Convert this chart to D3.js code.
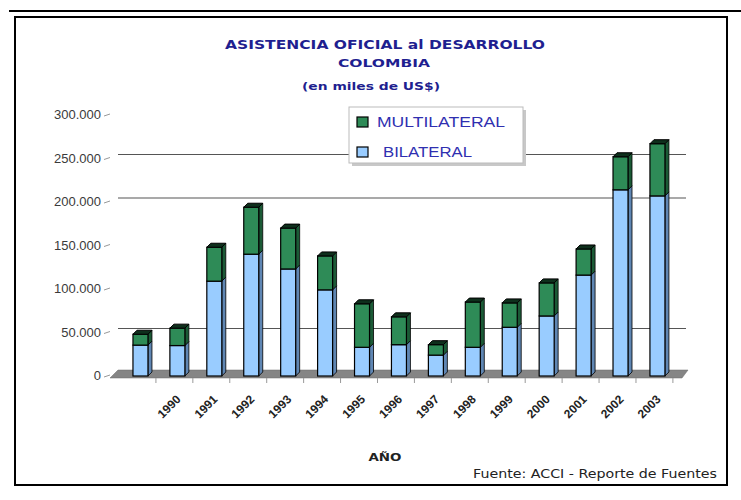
<!DOCTYPE html>
<html>
<head>
<meta charset="utf-8">
<script src="https://cdn.jsdelivr.net/npm/d3@7"></script>
<style>
  html, body { margin: 0; padding: 0; background: #fff; }
  svg { display: block; }
</style>
</head>
<body>
<svg id="chart" width="741" height="500"></svg>
<script>
// ---- data (US$ thousands) ----
const years = ["1989","1990","1991","1992","1993","1994","1995","1996","1997","1998","1999","2000","2001","2002","2003"];
const tickLabels = ["","1990","1991","1992","1993","1994","1995","1996","1997","1998","1999","2000","2001","2002","2003"];
const bilateral   = [35500, 35000, 109000, 140000, 123000, 99000, 33000, 36000, 24000, 33000, 56000, 69000, 116000, 214000, 207000];
const multilateral = [12500, 20000, 39000, 54000, 47000, 39000, 50000, 32000, 12000, 52000, 28000, 38000, 30000, 38000, 60000];
const yTicks = [0, 50000, 100000, 150000, 200000, 250000, 300000];
const yTickLabels = ["0","50.000","100.000","150.000","200.000","250.000","300.000"];
const gridValues = [50000, 200000, 250000];
const seriesNames = ["MULTILATERAL", "BILATERAL"];

const svg = d3.select("#chart");

// frame
svg.append("line").attr("x1", 9).attr("x2", 741).attr("y1", 11).attr("y2", 11)
  .attr("stroke", "#000").attr("stroke-width", 2);
svg.append("rect").attr("x", 15).attr("y", 17).attr("width", 712).attr("height", 468)
  .attr("fill", "none").attr("stroke", "#000").attr("stroke-width", 2);

// scales
const y = d3.scaleLinear().domain([0, 300000]).range([372, 111]); // back plane
const x = d3.scaleBand().domain(years).range([114.5, 683.4]).paddingInner(0.594).paddingOuter(0.5);
const D = 4; // 3D depth offset

// gridlines on back wall
svg.append("g").selectAll("line").data(gridValues).join("line")
  .attr("x1", 118).attr("x2", 686)
  .attr("y1", d => y(d)).attr("y2", d => y(d))
  .attr("stroke", "#555").attr("stroke-width", 1.2);

// floor
const fy = y(0);
svg.append("path")
  .attr("d", `M118,${fy-2} L688,${fy-2} L682,${fy+6} L110,${fy+6} Z`)
  .attr("fill", "#858585").attr("stroke", "#6a6a6a").attr("stroke-width", 0.5);

// category ticks below floor
const boundaries = years.slice(1).map(yr => x(yr) - (x.step() - x.bandwidth()) / 2 - 3);
boundaries.push(x(years[years.length-1]) + x.bandwidth() + (x.step()-x.bandwidth())/2 - 3);
svg.append("g").selectAll("line").data(boundaries).join("line")
  .attr("x1", d => d).attr("x2", d => d)
  .attr("y1", fy + 6).attr("y2", fy + 11)
  .attr("stroke", "#999").attr("stroke-width", 1);

// y axis labels
const yAxis = svg.append("g");
yAxis.selectAll("text").data(yTicks).join("text")
  .attr("x", 101).attr("y", d => y(d) + D + 4)
  .attr("text-anchor", "end")
  .attr("font-family", "Liberation Sans, Arial, sans-serif")
  .attr("font-size", 13).attr("fill", "#3a3a3a")
  .text((d, i) => yTickLabels[i]);
yAxis.selectAll("line").data(yTicks).join("line")
  .attr("x1", 104).attr("x2", 110)
  .attr("y1", d => y(d) + D + 1).attr("y2", d => y(d) + D - 1)
  .attr("stroke", "#999").attr("stroke-width", 1);

// stacked data
const rows = years.map((yr, i) => ({ year: yr, BILATERAL: bilateral[i], MULTILATERAL: multilateral[i] }));
const stack = d3.stack().keys(["BILATERAL", "MULTILATERAL"])(rows);
const colors = {
  BILATERAL:    { front: "#99ccff", side: "#5f86b3", top: "#3d5f8a" },
  MULTILATERAL: { front: "#2e8b57", side: "#1b5a36", top: "#0e2f1c" }
};

const bars = svg.append("g");
stack.forEach(layer => {
  const c = colors[layer.key];
  layer.forEach((seg, i) => {
    const x0 = x(years[i]), w = x.bandwidth();
    const yTop = y(seg[1]) + D, yBot = y(seg[0]) + D;
    const g = bars.append("g");
    g.append("path")
      .attr("d", `M${x0+w},${yTop} L${x0+w+D},${yTop-D} L${x0+w+D},${yBot-D} L${x0+w},${yBot} Z`)
      .attr("fill", c.side).attr("stroke", "#000").attr("stroke-width", 0.8);
    g.append("rect").attr("x", x0).attr("y", yTop).attr("width", w).attr("height", yBot - yTop)
      .attr("fill", c.front).attr("stroke", "#000").attr("stroke-width", 1.2);
    if (layer.key === "MULTILATERAL") {
      g.append("path")
        .attr("d", `M${x0},${yTop} L${x0+D},${yTop-D} L${x0+w+D},${yTop-D} L${x0+w},${yTop} Z`)
        .attr("fill", c.top).attr("stroke", "#000").attr("stroke-width", 1);
    }
  });
});

// x tick labels (rotated)
svg.append("g").selectAll("text").data(years).join("text")
  .attr("transform", d => `translate(${x(d) + x.bandwidth()/2 + 4},${fy + 28}) rotate(-45)`)
  .attr("text-anchor", "end")
  .attr("font-family", "Liberation Sans, Arial, sans-serif")
  .attr("font-size", 12).attr("font-weight", "bold").attr("fill", "#222")
  .text((d, i) => tickLabels[i]);

// titles
const tFont = "DejaVu Sans, Verdana, sans-serif";
svg.append("text").attr("x", 385).attr("y", 49).attr("text-anchor", "middle")
  .attr("font-family", tFont).attr("font-weight", "bold").attr("font-size", 13)
  .attr("fill", "#1f1f90").attr("textLength", 320).attr("lengthAdjust", "spacingAndGlyphs")
  .text("ASISTENCIA OFICIAL al DESARROLLO");
svg.append("text").attr("x", 384).attr("y", 67).attr("text-anchor", "middle")
  .attr("font-family", tFont).attr("font-weight", "bold").attr("font-size", 11)
  .attr("fill", "#1f1f90").attr("textLength", 92).attr("lengthAdjust", "spacingAndGlyphs")
  .text("COLOMBIA");
svg.append("text").attr("x", 371).attr("y", 90).attr("text-anchor", "middle")
  .attr("font-family", tFont).attr("font-weight", "bold").attr("font-size", 10)
  .attr("fill", "#1f1f90").attr("textLength", 138).attr("lengthAdjust", "spacingAndGlyphs")
  .text("(en miles de US$)");

// legend
const lg = svg.append("g");
lg.append("rect").attr("x", 352).attr("y", 110).attr("width", 174).attr("height", 56)
  .attr("fill", "#c8c8c8");
lg.append("rect").attr("x", 349).attr("y", 107).attr("width", 174).attr("height", 56)
  .attr("fill", "#fff").attr("stroke", "#bbb").attr("stroke-width", 1);
const legendItems = [
  { name: seriesNames[0], color: colors.MULTILATERAL.front, y: 117, tx: 377, tl: 128 },
  { name: seriesNames[1], color: colors.BILATERAL.front, y: 147, tx: 383, tl: 89 }
];
legendItems.forEach(it => {
  lg.append("rect").attr("x", 357).attr("y", it.y).attr("width", 11).attr("height", 10)
    .attr("fill", it.color).attr("stroke", "#000").attr("stroke-width", 1.2);
  lg.append("text").attr("x", it.tx).attr("y", it.y + 10)
    .attr("font-family", "Liberation Sans, Arial, sans-serif").attr("font-size", 14)
    .attr("fill", "#2f2fb0").attr("textLength", it.tl).attr("lengthAdjust", "spacingAndGlyphs")
    .text(it.name);
});

// axis title
svg.append("text").attr("x", 385).attr("y", 461).attr("text-anchor", "middle")
  .attr("font-family", tFont).attr("font-weight", "bold").attr("font-size", 11)
  .attr("fill", "#222").attr("textLength", 33).attr("lengthAdjust", "spacingAndGlyphs")
  .text("AÑO");

// source
svg.append("text").attr("x", 473).attr("y", 478)
  .attr("font-family", "DejaVu Sans, Verdana, sans-serif").attr("font-size", 12)
  .attr("fill", "#222").attr("textLength", 244).attr("lengthAdjust", "spacingAndGlyphs")
  .text("Fuente: ACCI - Reporte de Fuentes");
</script>
</body>
</html>
